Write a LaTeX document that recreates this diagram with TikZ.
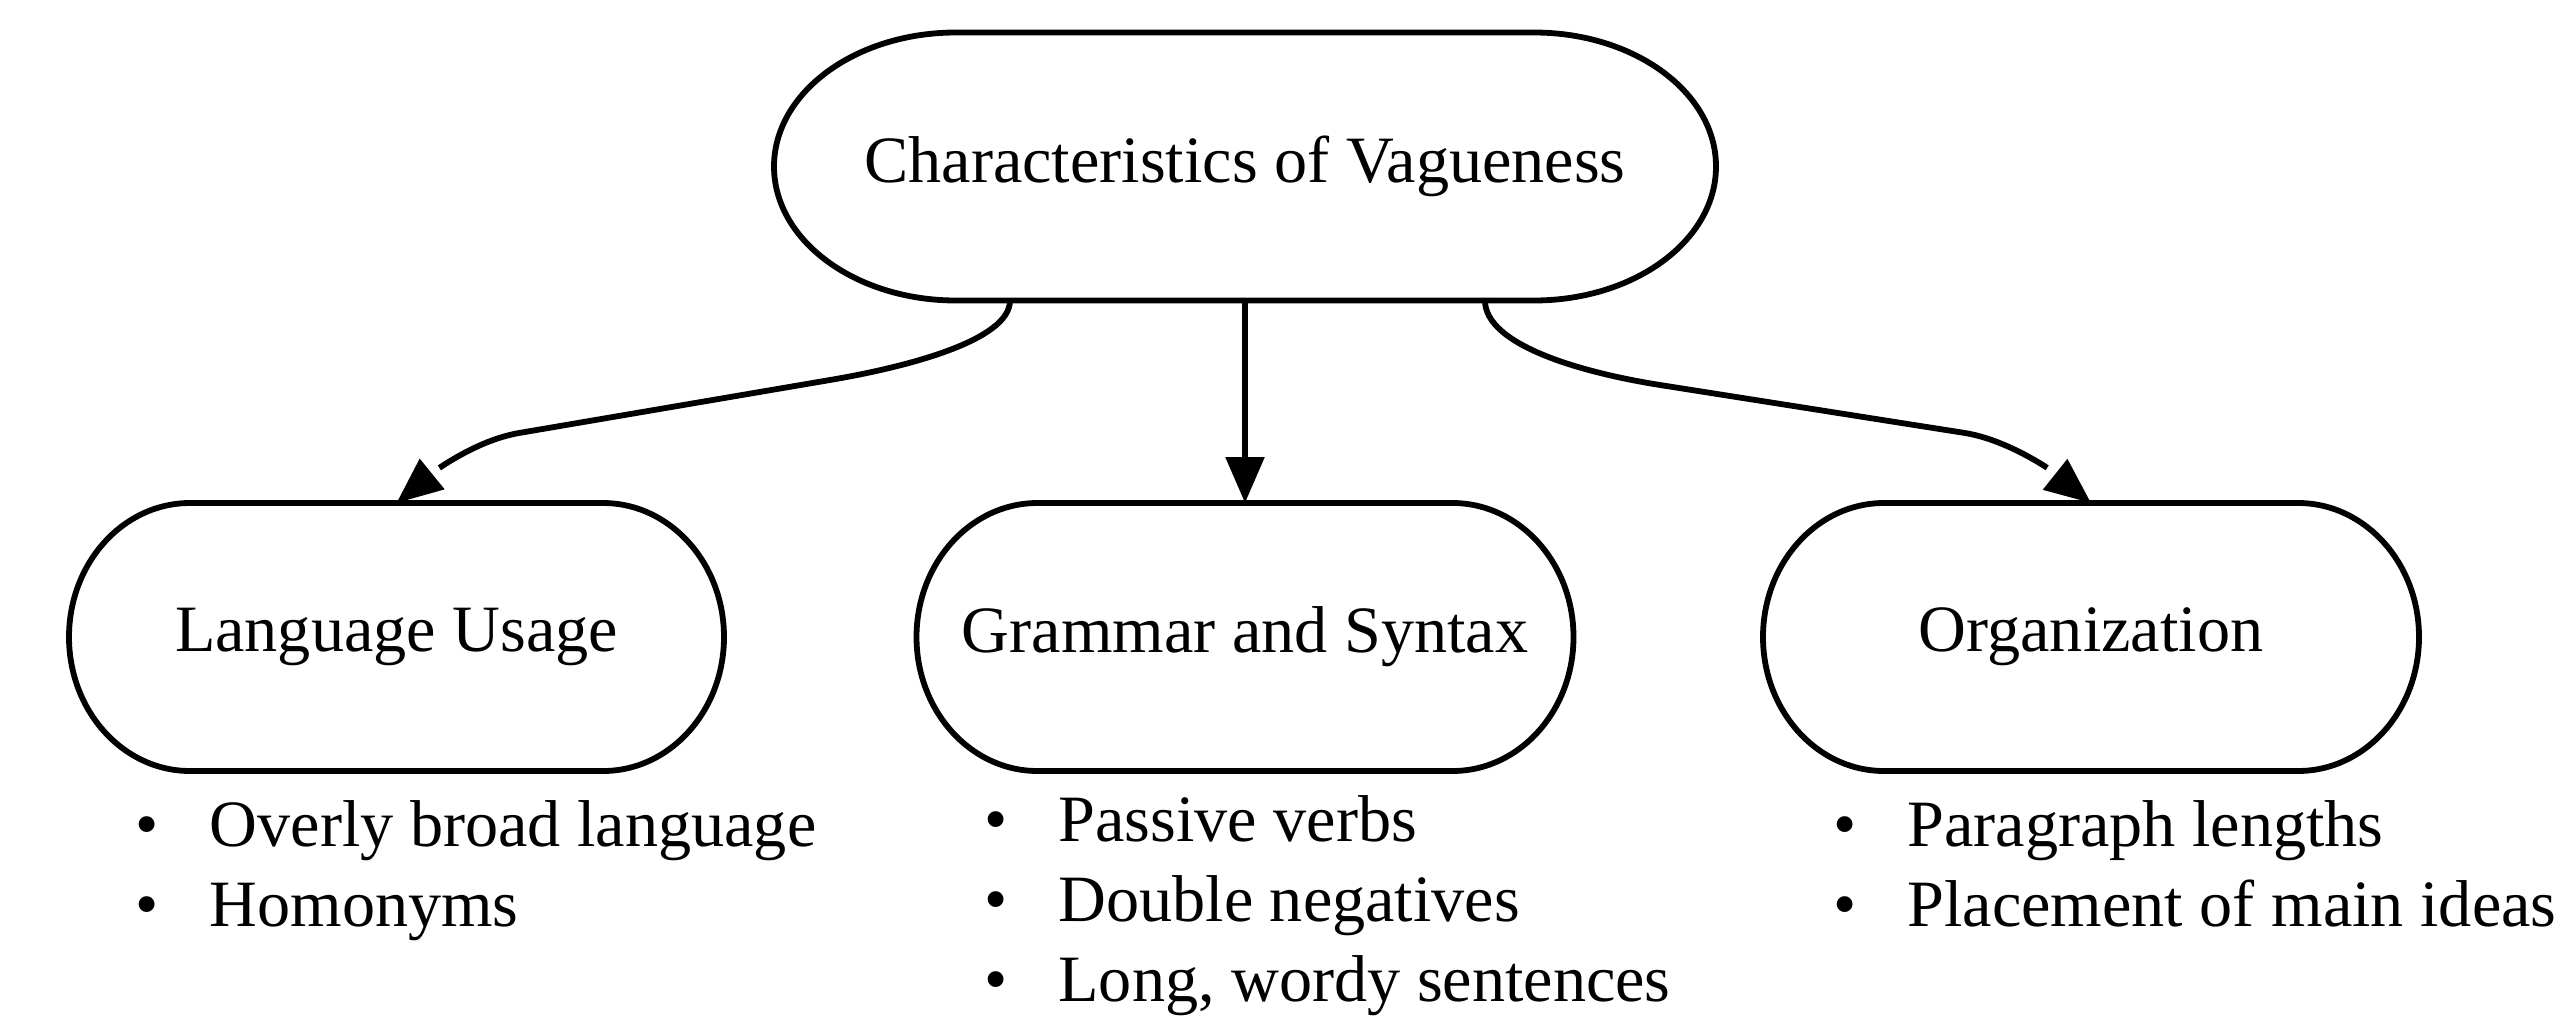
\documentclass[tikz,border=0pt]{standalone}
\usepackage{fontspec}
\setmainfont{Liberation Serif}
\usetikzlibrary{arrows.meta,bending}
\newcommand{\bul}{\makebox[0pt]{\textbullet}\hspace{31.25pt}}
\newcommand{\pillshape}[2]{%
  \draw[boxline] ([xshift=#2]#1.north west) -- ([xshift=-#2]#1.north east)
    arc[start angle=90,end angle=-90,x radius=#2,y radius=67pt]
    -- ([xshift=#2]#1.south west)
    arc[start angle=270,end angle=90,x radius=#2,y radius=67pt] -- cycle;}
\tikzset{
  boxline/.style={line width=2.9pt, line join=round},
  boxnode/.style={rectangle, inner sep=0pt, outer sep=0pt, minimum height=134pt,
    font=\fontsize{33.1}{40}\selectfont},
  listnode/.style={inner sep=0pt, outer sep=0pt, anchor=base west,
    font=\fontsize{33.1}{40}\selectfont},
  conn/.style={line width=2.9pt, -{Triangle[length=23pt,width=19pt]}}
}
\begin{document}
\begin{tikzpicture}[x=0.5pt,y=0.5pt]
\useasboundingbox (0,0) rectangle (2564,-1017);
% boxes
\node[boxnode, minimum width=471pt] (top) at (1245,-166.5) {Characteristics of Vagueness};
\node[boxnode, minimum width=327.5pt] (lu) at (396.5,-637) {Language Usage};
\node[boxnode, minimum width=328.5pt] (gs) at (1245,-637) {Grammar and Syntax};
\node[boxnode, minimum width=328pt] (or) at (2091,-637) {Organization};
\pillshape{top}{91pt}
\pillshape{lu}{60.5pt}
\pillshape{gs}{60.5pt}
\pillshape{or}{60.5pt}
% lists
\node[listnode] (lulist) at (147.3,-846.5) {\begin{tabular}[t]{@{}l@{}}\bul Overly broad language\\ \bul Homonyms\end{tabular}};
\node[listnode] (gslist) at (996,-841.5) {\begin{tabular}[t]{@{}l@{}}\bul Passive verbs\\ \bul Double negatives\\ \bul Long, wordy sentences\end{tabular}};
\node[listnode] (orlist) at (1845,-846.5) {\begin{tabular}[t]{@{}l@{}}\bul Paragraph lengths\\ \bul Placement of main ideas\end{tabular}};
% connectors
\draw[conn] (top.south) -- (gs.north);
\draw[conn] ([xshift=-117.5pt]top.south) .. controls (1010,-340) and (909,-366.6) .. (830,-380)
  -- (519,-433) .. controls (470,-441.4) and (417,-481) .. (lu.north);
\draw[conn] ([xshift=120pt]top.south) .. controls (1485,-345) and (1581,-372.5) .. (1660,-385)
  -- (1965,-433) .. controls (2014,-441) and (2071,-480.6) .. (or.north);
\end{tikzpicture}
\end{document}
